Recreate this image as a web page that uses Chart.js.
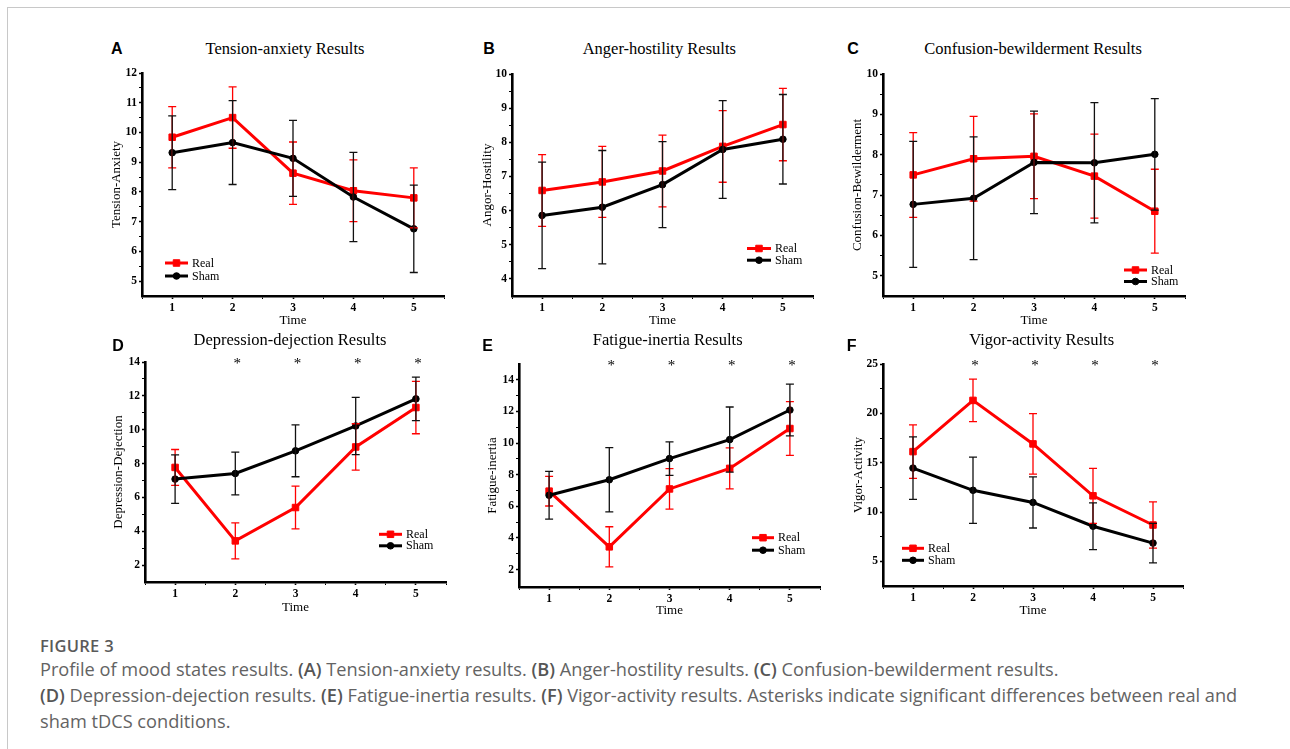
<!DOCTYPE html>
<html>
<head>
<meta charset="utf-8">
<script src="https://cdn.jsdelivr.net/npm/chart.js@4.4.1/dist/chart.umd.min.js"></script>
<style>
  html,body{margin:0;padding:0;background:#fff;}
  body{width:1290px;height:749px;overflow:hidden;position:relative;}
  .frame{position:absolute;left:7px;top:7px;right:-2px;bottom:-2px;border-top:1px solid #c8c8c8;border-left:1px solid #c8c8c8;}
  canvas{position:absolute;}
  .letter{position:absolute;font:bold 16px "Liberation Sans",Arial,sans-serif;line-height:20px;color:#000;white-space:nowrap;}
  .ptitle{position:absolute;font:16.5px "Liberation Serif","Times New Roman",serif;line-height:20px;color:#000;white-space:nowrap;transform:translateX(-50%);}
  .fig{position:absolute;left:40px;top:633px;font:600 16.5px "Open Sans",sans-serif;line-height:26px;color:#5a5a5a;letter-spacing:0.3px;}
  .cap{position:absolute;left:40px;top:657px;font:400 18.2px "Open Sans",sans-serif;line-height:25.8px;color:#636363;white-space:nowrap;}
  .cap b{font-weight:600;color:#555;}
</style>
</head>
<body>
<div class="frame"></div>

<script>
// ---------------- DATA ----------------
const times = [1, 2, 3, 4, 5];
const timeTicks = [1, 2, 3, 4, 5];
const seriesNames = ['Real', 'Sham'];

// A  Tension-anxiety
const tensionReal   = [9.84, 10.50, 8.63, 8.04, 7.80];
const tensionRealSD = [1.03, 1.03, 1.05, 1.04, 1.01];
const tensionSham   = [9.32, 9.66, 9.13, 7.83, 6.76];
const tensionShamSD = [1.24, 1.41, 1.28, 1.50, 1.47];
const tensionTicks  = [5, 6, 7, 8, 9, 10, 11, 12];

// B  Anger-hostility
const angerReal   = [6.59, 6.84, 7.16, 7.88, 8.52];
const angerRealSD = [1.05, 1.04, 1.05, 1.05, 1.06];
const angerSham   = [5.86, 6.10, 6.76, 7.79, 8.09];
const angerShamSD = [1.56, 1.66, 1.26, 1.43, 1.31];
const angerTicks  = [4, 5, 6, 7, 8, 9, 10];

// C  Confusion-bewilderment
const confusionReal   = [7.50, 7.90, 7.96, 7.47, 6.60];
const confusionRealSD = [1.05, 1.05, 1.05, 1.04, 1.04];
const confusionSham   = [6.77, 6.92, 7.81, 7.80, 8.01];
const confusionShamSD = [1.56, 1.52, 1.27, 1.49, 1.38];
const confusionTicks  = [5, 6, 7, 8, 9, 10];

// D  Depression-dejection
const depressionReal   = [7.77, 3.43, 5.40, 8.98, 11.31];
const depressionRealSD = [1.06, 1.06, 1.26, 1.37, 1.55];
const depressionSham   = [7.08, 7.41, 8.75, 10.22, 11.82];
const depressionShamSD = [1.43, 1.26, 1.53, 1.69, 1.29];
const depressionTicks  = [2, 4, 6, 8, 10, 12, 14];
const depressionSig    = [false, true, true, true, true];

// E  Fatigue-inertia
const fatigueReal   = [6.96, 3.44, 7.10, 8.40, 10.92];
const fatigueRealSD = [0.94, 1.27, 1.28, 1.30, 1.70];
const fatigueSham   = [6.70, 7.68, 9.02, 10.22, 12.09];
const fatigueShamSD = [1.51, 2.03, 1.06, 2.06, 1.64];
const fatigueTicks  = [2, 4, 6, 8, 10, 12, 14];
const fatigueSig    = [false, true, true, true, true];

// F  Vigor-activity
const vigorReal   = [16.12, 21.31, 16.90, 11.64, 8.68];
const vigorRealSD = [2.71, 2.16, 3.07, 2.79, 2.34];
const vigorSham   = [14.45, 12.20, 10.97, 8.56, 6.85];
const vigorShamSD = [3.17, 3.36, 2.59, 2.37, 2.00];
const vigorTicks  = [5, 10, 15, 20, 25];
const vigorSig    = [false, true, true, true, true];

// ---------------- STYLE / LAYOUT ----------------
const SERIF = '"Liberation Serif","Times New Roman",serif';
const RED = '#ff0000', BLACK = '#000000';

const panels = [
  {letter:'A', title:'Tension-anxiety Results', ytitle:'Tension-Anxiety', real:tensionReal, realSD:tensionRealSD, sham:tensionSham, shamSD:tensionShamSD, yTicks:tensionTicks, ymin:4.5, ymax:12, sig:null,
   L:142, R:444, T:73, B:296, yTitleX:117, timeY:320, letterX:111, letterY:49.2, titleX:285, titleBase:55, leg:{x:165, y:263, gap:13, len:23}},
  {letter:'B', title:'Anger-hostility Results', ytitle:'Angor-Hostility', real:angerReal, realSD:angerRealSD, sham:angerSham, shamSD:angerShamSD, yTicks:angerTicks, ymin:3.5, ymax:10, sig:null,
   L:512, R:813, T:74, B:296, yTitleX:487.3, timeY:320, letterX:483.3, letterY:49.2, titleX:659.3, titleBase:55, leg:{x:747, y:248.5, gap:11.7, len:24}},
  {letter:'C', title:'Confusion-bewilderment Results', ytitle:'Confusion-Bewilderment', real:confusionReal, realSD:confusionRealSD, sham:confusionSham, shamSD:confusionShamSD, yTicks:confusionTicks, ymin:4.5, ymax:10, sig:null,
   L:883, R:1185, T:74, B:296, yTitleX:857.3, timeY:320, letterX:847.3, letterY:49.2, titleX:1033, titleBase:55, leg:{x:1124, y:270, gap:11.5, len:23}},
  {letter:'D', title:'Depression-dejection Results', ytitle:'Depression-Dejection', real:depressionReal, realSD:depressionRealSD, sham:depressionSham, shamSD:depressionShamSD, yTicks:depressionTicks, ymin:1, ymax:14, sig:depressionSig,
   L:145, R:446, T:362, B:582, yTitleX:118.3, timeY:606.7, letterX:112.3, letterY:345.8, titleX:290, titleBase:346, leg:{x:379, y:534.3, gap:11.5, len:23}},
  {letter:'E', title:'Fatigue-inertia Results', ytitle:'Fatigue-inertia', real:fatigueReal, realSD:fatigueRealSD, sham:fatigueSham, shamSD:fatigueShamSD, yTicks:fatigueTicks, ymin:0.9, ymax:15, sig:fatigueSig,
   L:519, R:820, T:364, B:587, yTitleX:493, timeY:610, letterX:482.3, letterY:345.8, titleX:667.7, titleBase:346, leg:{x:752, y:537.7, gap:12.5, len:22}},
  {letter:'F', title:'Vigor-activity Results', ytitle:'Vigor-Activity', real:vigorReal, realSD:vigorRealSD, sham:vigorSham, shamSD:vigorShamSD, yTicks:vigorTicks, ymin:2.5, ymax:25, sig:vigorSig,
   L:883, R:1183, T:364, B:586, yTitleX:858.3, timeY:610, letterX:846.7, letterY:345.8, titleX:1041.7, titleBase:346, leg:{x:902, y:548.3, gap:12, len:22}}
];

// ---------------- PLUGINS ----------------
const errorBarPlugin = {
  id: 'errorBars',
  afterDatasetsDraw(chart) {
    const ctx = chart.ctx, xs = chart.scales.x, ys = chart.scales.y;
    chart.data.datasets.forEach(ds => {
      ctx.save();
      ctx.strokeStyle = ds.errColor;
      ctx.lineWidth = 1.3;
      ds.data.forEach((pt, j) => {
        const e = ds.errors[j];
        const x = xs.getPixelForValue(pt.x);
        const yt = ys.getPixelForValue(pt.y + e), yb = ys.getPixelForValue(pt.y - e);
        ctx.beginPath();
        ctx.moveTo(x, yt); ctx.lineTo(x, yb);
        ctx.moveTo(x - 4, yt); ctx.lineTo(x + 4, yt);
        ctx.moveTo(x - 4, yb); ctx.lineTo(x + 4, yb);
        ctx.stroke();
      });
      ctx.restore();
    });
  }
};

function drawMarker(ctx, style, r, x, y) {
  ctx.beginPath();
  if (style === 'rect') { const s = Math.SQRT1_2 * r; ctx.rect(x - s, y - s, 2 * s, 2 * s); }
  else ctx.arc(x, y, r, 0, Math.PI * 2);
  ctx.fill(); ctx.stroke();
}

const legendPlugin = {
  id: 'pomsLegend',
  afterDraw(chart, args, o) {
    if (!o || o.x === undefined) return;
    const ctx = chart.ctx;
    [0, 1].forEach((i, k) => {
      const ds = chart.data.datasets[i];
      const y = o.y + k * o.gap;
      ctx.save();
      ctx.strokeStyle = ds.borderColor; ctx.fillStyle = ds.backgroundColor; ctx.lineWidth = 3;
      ctx.beginPath(); ctx.moveTo(o.x, y); ctx.lineTo(o.x + o.len, y); ctx.stroke();
      ctx.lineWidth = 1;
      drawMarker(ctx, ds.pointStyle, ds.pointRadius, o.x + o.len / 2, y);
      ctx.fillStyle = '#000';
      ctx.font = '12px ' + SERIF;
      ctx.textBaseline = 'middle';
      ctx.textAlign = 'left';
      ctx.fillText(ds.label, o.x + o.len + 4, y + 0.5);
      ctx.restore();
    });
  }
};

const sigPlugin = {
  id: 'sigStars',
  afterDraw(chart, args, o) {
    if (!o || !o.sig) return;
    const ctx = chart.ctx, xs = chart.scales.x;
    ctx.save();
    ctx.fillStyle = '#000';
    ctx.font = '15px ' + SERIF;
    ctx.textAlign = 'center';
    ctx.textBaseline = 'alphabetic';
    o.sig.forEach((s, j) => {
      if (!s) return;
      ctx.fillText('*', xs.getPixelForValue(times[j]) + 2, chart.chartArea.top + 5.5);
    });
    ctx.restore();
  }
};

Chart.register(errorBarPlugin, legendPlugin, sigPlugin);

// ---------------- BUILD ----------------
function withMinors(majors) {
  const out = [];
  for (let i = 0; i < majors.length; i++) {
    out.push(majors[i]);
    if (i < majors.length - 1) out.push((majors[i] + majors[i + 1]) / 2);
  }
  return out;
}

panels.forEach(p => {
  const PT = 14, PR = 12, LH = 13 * 1.2;
  const cl = Math.round(p.yTitleX - LH / 2);
  const wy = p.L - cl;
  const ct = p.T - PT;
  const plotH = p.B - p.T;
  const hx = Math.round(p.timeY + LH / 2 - p.B);
  const plotW = p.R - p.L;
  const W = wy + plotW + PR, H = PT + plotH + hx;

  const cv = document.createElement('canvas');
  cv.width = W; cv.height = H;
  cv.style.left = cl + 'px'; cv.style.top = ct + 'px';
  cv.style.width = W + 'px'; cv.style.height = H + 'px';
  document.body.appendChild(cv);

  const xAll = [0.5].concat(withMinors(timeTicks)).concat([5.5]);
  const yAll = withMinors(p.yTicks);

  new Chart(cv.getContext('2d'), {
    type: 'line',
    data: {
      datasets: [
        {label: seriesNames[0], data: times.map((t, i) => ({x: t, y: p.real[i]})), errors: p.realSD, errColor: RED,
         borderColor: RED, backgroundColor: RED, borderWidth: 3, pointStyle: 'rect', pointRadius: 4.6,
         pointBorderWidth: 1, tension: 0, order: 1},
        {label: seriesNames[1], data: times.map((t, i) => ({x: t, y: p.sham[i]})), errors: p.shamSD, errColor: '#111',
         borderColor: BLACK, backgroundColor: BLACK, borderWidth: 3, pointStyle: 'circle', pointRadius: 3.3,
         pointBorderWidth: 1, tension: 0, order: 0}
      ]
    },
    options: {
      responsive: false, animation: false, devicePixelRatio: 1,
      layout: {padding: {left: 0, top: PT, right: PR, bottom: 0}},
      events: [],
      plugins: {
        legend: {display: false}, tooltip: {enabled: false}, title: {display: false},
        pomsLegend: {x: p.leg.x - cl, y: p.leg.y - ct, gap: p.leg.gap, len: p.leg.len},
        sigStars: {sig: p.sig}
      },
      scales: {
        x: {
          type: 'linear', min: 0.5, max: 5.5,
          afterBuildTicks: s => { s.ticks = xAll.map(v => ({value: v})); },
          afterFit: s => { s.height = hx; },
          grid: {drawOnChartArea: false, drawTicks: true, tickLength: 3, color: '#000', tickColor: '#000',
                 tickWidth: c => (c.tick && Number.isInteger(c.tick.value)) ? 1.6 : 1},
          border: {display: true, color: '#000', width: 2.6},
          ticks: {autoSkip: false, maxRotation: 0, padding: 2, color: '#000',
                  font: {family: SERIF, size: 11.5, weight: 'bold', lineHeight: 1.2},
                  callback: v => timeTicks.includes(v) ? String(v) : ''},
          title: {display: true, text: 'Time', color: '#000', padding: 0, font: {family: SERIF, size: 13, lineHeight: 1.2}}
        },
        y: {
          type: 'linear', min: p.ymin, max: p.ymax,
          afterBuildTicks: s => { s.ticks = yAll.map(v => ({value: v})); },
          afterFit: s => { s.width = wy; },
          grid: {drawOnChartArea: false, drawTicks: true, tickLength: 3, color: '#000', tickColor: '#000',
                 tickWidth: c => (c.tick && p.yTicks.includes(c.tick.value)) ? 1.6 : 1},
          border: {display: true, color: '#000', width: 2.6},
          ticks: {autoSkip: false, padding: 2, color: '#000',
                  font: {family: SERIF, size: 11.5, weight: 'bold', lineHeight: 1.2},
                  callback: v => p.yTicks.includes(v) ? String(v) : ''},
          title: {display: true, text: p.ytitle, color: '#000', padding: 0, font: {family: SERIF, size: 13, lineHeight: 1.2}}
        }
      }
    }
  });

  const lt = document.createElement('div');
  lt.className = 'letter';
  lt.textContent = p.letter;
  lt.style.left = p.letterX + 'px';
  lt.style.top = (p.letterY - 9.8) + 'px';
  document.body.appendChild(lt);

  const tt = document.createElement('div');
  tt.className = 'ptitle';
  tt.textContent = p.title;
  tt.style.left = p.titleX + 'px';
  tt.style.top = (p.titleBase - 15.6) + 'px';
  document.body.appendChild(tt);
});
</script>

<div class="fig">FIGURE 3</div>
<div class="cap">Profile of mood states results. <b>(A)</b> Tension-anxiety results. <b>(B)</b> Anger-hostility results. <b>(C)</b> Confusion-bewilderment results.<br><b>(D)</b> Depression-dejection results. <b>(E)</b> Fatigue-inertia results. <b>(F)</b> Vigor-activity results. Asterisks indicate significant differences between real and<br>sham tDCS conditions.</div>
</body>
</html>
